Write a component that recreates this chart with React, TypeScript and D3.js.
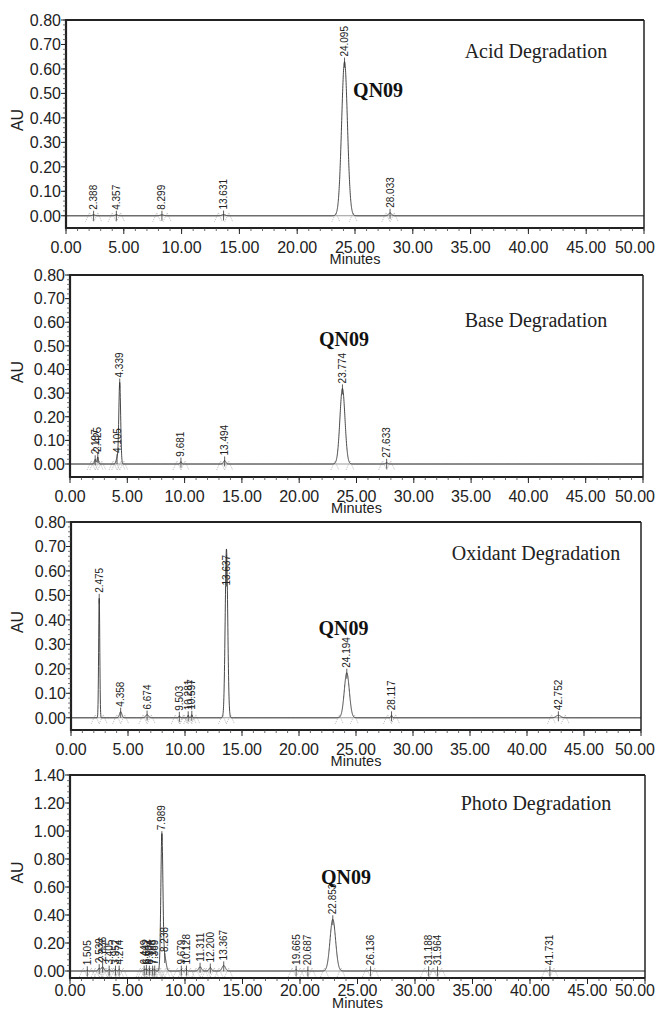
import * as d3 from "d3";

// retention times (min), peak heights (AU), peak widths (sigma, min)
const ACID_RT = [2.388, 4.357, 8.299, 13.631, 24.095, 28.033];
const ACID_AU = [0.004, 0.004, 0.004, 0.005, 0.63, 0.012];
const ACID_SIGMA = [0.12, 0.12, 0.15, 0.15, 0.25, 0.12];

const BASE_RT = [2.197, 2.425, 4.105, 4.339, 9.681, 13.494, 23.774, 27.633];
const BASE_AU = [0.02, 0.03, 0.025, 0.345, 0.01, 0.015, 0.32, 0.005];
const BASE_SIGMA = [0.06, 0.06, 0.08, 0.08, 0.06, 0.1, 0.22, 0.1];

const OXI_RT = [2.475, 4.358, 6.674, 9.503, 10.281, 10.597, 13.637, 24.194, 28.117, 42.752];
const OXI_AU = [0.49, 0.025, 0.013, 0.008, 0.01, 0.012, 0.69, 0.184, 0.01, 0.01];
const OXI_SIGMA = [0.05, 0.1, 0.12, 0.05, 0.05, 0.05, 0.11, 0.22, 0.06, 0.2];
const OXI_LABEL_AU = [null, null, null, null, null, null, 0.52, null, null, null];

const PHOTO_RT = [1.505, 2.539, 2.836, 3.405, 3.952, 4.274, 6.449, 6.642, 6.904, 7.188, 7.369,
  7.989, 8.238, 9.679, 10.128, 11.311, 12.2, 13.367, 19.665, 20.687, 22.853, 26.136, 31.188, 31.964, 41.731];
const PHOTO_AU = [0.005, 0.02, 0.03, 0.01, 0.01, 0.01, 0.01, 0.015, 0.01, 0.01, 0.01,
  0.97, 0.1, 0.01, 0.01, 0.03, 0.025, 0.04, 0.008, 0.005, 0.37, 0.006, 0.005, 0.005, 0.006];
const PHOTO_SIGMA = [0.06, 0.08, 0.1, 0.06, 0.06, 0.06, 0.06, 0.06, 0.06, 0.06, 0.06,
  0.09, 0.12, 0.06, 0.06, 0.12, 0.1, 0.14, 0.08, 0.06, 0.24, 0.12, 0.06, 0.06, 0.1];

const X_TICKS = d3.range(0, 50.01, 5);

const panels = [
  { title: "Acid Degradation", rt: ACID_RT, au: ACID_AU, sigma: ACID_SIGMA, labelAU: [],
    yMin: -0.05, yMax: 0.8, yStep: 0.1, left: 66, right: 644, top: 20, bottom: 228,
    titleDy: 38, tickDy: 25, minDy: 36, qn: [27.0, 0.485] },
  { title: "Base Degradation", rt: BASE_RT, au: BASE_AU, sigma: BASE_SIGMA, labelAU: [],
    yMin: -0.055, yMax: 0.8, yStep: 0.1, left: 70, right: 643, top: 275, bottom: 477,
    titleDy: 52, tickDy: 25, minDy: 36, qn: [23.9, 0.5] },
  { title: "Oxidant Degradation", rt: OXI_RT, au: OXI_AU, sigma: OXI_SIGMA, labelAU: OXI_LABEL_AU,
    yMin: -0.05, yMax: 0.8, yStep: 0.1, left: 71, right: 641, top: 522, bottom: 730,
    titleDy: 38, tickDy: 25, minDy: 36, qn: [23.9, 0.34] },
  { title: "Photo Degradation", rt: PHOTO_RT, au: PHOTO_AU, sigma: PHOTO_SIGMA, labelAU: [],
    yMin: -0.05, yMax: 1.4, yStep: 0.2, left: 70, right: 645, top: 775, bottom: 978,
    titleDy: 35, tickDy: 18, minDy: 30, qn: [24.0, 0.62] },
];

const sans = "Arial, 'Liberation Sans', sans-serif";
const serif = "'Times New Roman', 'Liberation Serif', serif";

function Panel({ p, idx }) {
  const x = d3.scaleLinear().domain([0, 50]).range([p.left, p.right]);
  const y = d3.scaleLinear().domain([p.yMin, p.yMax]).range([p.bottom, p.top]);
  const signal = (t) => d3.sum(p.rt, (r, i) => p.au[i] * Math.exp(-0.5 * ((t - r) / p.sigma[i]) ** 2));
  const pts = d3.range(0, 50.0001, 0.01).map((t) => [t, signal(t)]);
  const line = d3.line().x((d) => x(d[0])).y((d) => y(d[1]));
  const yTicks = d3.range(0, p.yMax + 1e-9, p.yStep);
  const yMinor = d3.range(0, p.yMax + 1e-9, p.yStep / 5);
  const xMinor = d3.range(0, 50.01, 1);
  const fmt = d3.format(".2f");
  const clipId = "clip" + idx;
  const y0 = y(0);

  return (
    <g>
      <defs>
        <clipPath id={clipId}>
          <rect x={p.left} y={p.top} width={p.right - p.left} height={p.bottom - p.top} />
        </clipPath>
      </defs>
      {/* baseline */}
      <line x1={p.left} x2={p.right} y1={y0} y2={y0} stroke="#999" strokeWidth={1} />
      {/* integration marks */}
      {p.rt.map((r, i) => {
        const w = Math.max(3 * p.sigma[i], 0.35);
        return [r - w, r + w].map((t, k) => (
          <path key={i + "-" + k}
            d={`M${x(t) - 4},${y0 + 6}L${x(t)},${y0 - 3}L${x(t) + 4},${y0 + 6}`}
            fill="none" stroke="#aaa" strokeWidth={0.8} strokeDasharray="1,1" />
        ));
      })}
      <path d={line(pts)} fill="none" stroke="#333" strokeWidth={0.9} clipPath={`url(#${clipId})`} />
      {/* peak labels */}
      {p.rt.map((r, i) => {
        const la = p.labelAU[i] != null ? p.labelAU[i] : p.au[i];
        const ya = y(la);
        return (
          <g key={"l" + i}>
            <line x1={x(r)} x2={x(r)} y1={y(p.au[i]) + 6} y2={ya - 4} stroke="#333" strokeWidth={0.8} />
            <text transform={`translate(${x(r)},${ya - 5}) rotate(-90)`} dy="0.35em"
              fontFamily={sans} fontSize={10} fill="#222">{r.toFixed(3)}</text>
          </g>
        );
      })}
      {/* frame */}
      <line x1={p.left} x2={p.right} y1={p.top} y2={p.top} stroke="#222" strokeWidth={2} />
      <line x1={p.right} x2={p.right} y1={p.top} y2={p.bottom} stroke="#222" strokeWidth={1.5} />
      <line x1={p.left} x2={p.left} y1={p.top - 1} y2={p.bottom + 1} stroke="#222" strokeWidth={2.2} />
      <line x1={p.left} x2={p.right} y1={p.bottom} y2={p.bottom} stroke="#222" strokeWidth={2.2} />
      {/* y axis */}
      {yMinor.map((v, i) => (
        <line key={"ym" + i} x1={p.left - 3} x2={p.left} y1={y(v)} y2={y(v)} stroke="#444" strokeWidth={0.7} />
      ))}
      {yTicks.map((v, i) => (
        <g key={"yt" + i}>
          <line x1={p.left - 5} x2={p.left} y1={y(v)} y2={y(v)} stroke="#222" strokeWidth={1} />
          <text x={p.left - 5} y={y(v)} dy="0.36em" textAnchor="end" fontFamily={sans} fontSize={16} fill="#222">{fmt(v)}</text>
        </g>
      ))}
      <text transform={`translate(23,${(p.top + p.bottom) / 2 - 4}) rotate(-90)`} textAnchor="middle"
        fontFamily={sans} fontSize={16} fill="#222">AU</text>
      {/* x axis */}
      {xMinor.map((v, i) => (
        <line key={"xm" + i} x1={x(v)} x2={x(v)} y1={p.bottom} y2={p.bottom + 3} stroke="#444" strokeWidth={0.8} />
      ))}
      {X_TICKS.map((v, i) => {
        const last = i === X_TICKS.length - 1;
        return (
          <g key={"xt" + i}>
            <line x1={x(v)} x2={x(v)} y1={p.bottom} y2={p.bottom + 6} stroke="#222" strokeWidth={1} />
            <text x={last ? 655 : x(v)} y={p.bottom + p.tickDy} textAnchor={last ? "end" : "middle"}
              fontFamily={sans} fontSize={16} fill="#222">{fmt(v)}</text>
          </g>
        );
      })}
      <text x={(p.left + p.right) / 2} y={p.bottom + p.minDy} textAnchor="middle" fontFamily={sans} fontSize={14.5} fill="#222">Minutes</text>
      {/* annotations */}
      <text x={536} y={p.top + p.titleDy} textAnchor="middle" fontFamily={serif} fontSize={20} fill="#222">{p.title}</text>
      <text x={x(p.qn[0])} y={y(p.qn[1])} textAnchor="middle" fontFamily={serif} fontSize={20} fontWeight="bold" fill="#111">QN09</text>
    </g>
  );
}

export default function App() {
  return (
    <svg width={657} height={1012} style={{ position: "absolute", left: 0, top: 0, background: "#fff" }}>
      <rect width={657} height={1012} fill="#fff" />
      {panels.map((p, i) => <Panel key={i} p={p} idx={i} />)}
    </svg>
  );
}
